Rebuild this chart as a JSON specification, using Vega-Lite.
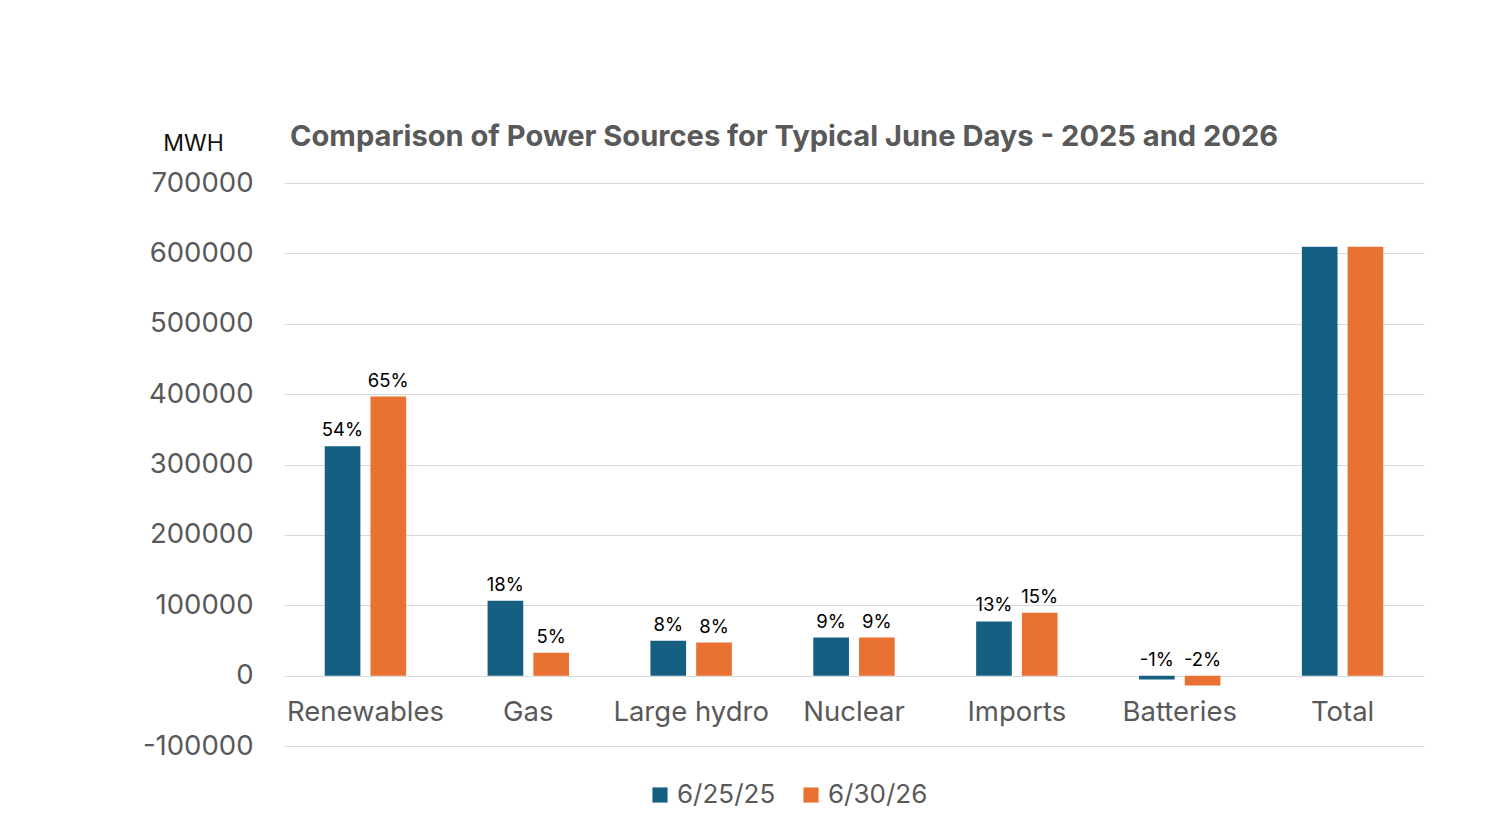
{
  "$schema": "https://vega.github.io/schema/vega-lite/v6.json",
  "width": 1140,
  "height": 563,
  "autosize": {"type": "none"},
  "padding": {"left": 284, "top": 183, "right": 70, "bottom": 88},
  "background": "white",
  "config": {"view": {"stroke": null}},
  "title": {
    "text": "Comparison of Power Sources for Typical June Days - 2025 and 2026",
    "anchor": "start",
    "frame": "group",
    "dx": 6,
    "offset": -20,
    "fontSize": 29.1,
    "font": "Inter",
    "fontWeight": "bold",
    "color": "#595959"
  },
  "data": {
    "values": [
      {"source": "Renewables", "date": "6/25/25", "mwh": 326000, "pct": "54%"},
      {"source": "Renewables", "date": "6/30/26", "mwh": 396500, "pct": "65%"},
      {"source": "Gas", "date": "6/25/25", "mwh": 106500, "pct": "18%"},
      {"source": "Gas", "date": "6/30/26", "mwh": 32500, "pct": "5%"},
      {"source": "Large hydro", "date": "6/25/25", "mwh": 49500, "pct": "8%"},
      {"source": "Large hydro", "date": "6/30/26", "mwh": 47000, "pct": "8%"},
      {"source": "Nuclear", "date": "6/25/25", "mwh": 54000, "pct": "9%"},
      {"source": "Nuclear", "date": "6/30/26", "mwh": 54000, "pct": "9%"},
      {"source": "Imports", "date": "6/25/25", "mwh": 77000, "pct": "13%"},
      {"source": "Imports", "date": "6/30/26", "mwh": 89500, "pct": "15%"},
      {"source": "Batteries", "date": "6/25/25", "mwh": -5500, "pct": "-1%"},
      {"source": "Batteries", "date": "6/30/26", "mwh": -14000, "pct": "-2%"},
      {"source": "Total", "date": "6/25/25", "mwh": 609500, "pct": null},
      {"source": "Total", "date": "6/30/26", "mwh": 609500, "pct": null}
    ]
  },
  "encoding": {
    "x": {
      "field": "source",
      "type": "nominal",
      "sort": null,
      "scale": {"paddingInner": 0.5, "paddingOuter": 0.25},
      "axis": {
        "title": null,
        "offset": -70,
        "domain": false,
        "ticks": false,
        "labelAngle": 0,
        "labelPadding": 22,
        "labelFontSize": 27.5,
        "labelFont": "Inter",
        "labelColor": "#595959"
      }
    },
    "xOffset": {
      "field": "date",
      "type": "nominal",
      "scale": {"paddingInner": 0.22, "paddingOuter": 0}
    }
  },
  "layer": [
    {
      "mark": {"type": "bar"},
      "encoding": {
        "y": {
          "field": "mwh",
          "type": "quantitative",
          "scale": {"domain": [-100000, 700000], "nice": false},
          "axis": {
            "values": [-100000, 0, 100000, 200000, 300000, 400000, 500000, 600000, 700000],
            "labelExpr": "'' + datum.value",
            "domain": false,
            "ticks": false,
            "gridColor": "#D9D9D9",
            "gridWidth": 1,
            "labelPadding": 31,
            "labelFontSize": 27.5,
            "labelFont": "Inter",
            "labelColor": "#595959",
            "title": "MWH",
            "titleAngle": 0,
            "titleFont": "Inter",
            "titleFontSize": 23,
            "titleFontWeight": "normal",
            "titleColor": "#111111",
            "titleAlign": "center",
            "titleBaseline": "middle",
            "titleX": -91,
            "titleY": -40
          }
        },
        "color": {
          "field": "date",
          "type": "nominal",
          "scale": {"range": ["#156082", "#E97132"]},
          "legend": {
            "title": null,
            "orient": "none",
            "legendX": 363,
            "legendY": 599,
            "direction": "horizontal",
            "symbolType": "square",
            "symbolSize": 230,
            "symbolStrokeWidth": 0,
            "labelFontSize": 26,
            "labelFont": "Inter",
            "labelColor": "#595959",
            "columnPadding": 22
          }
        }
      }
    },
    {
      "transform": [{"filter": "datum.pct != null && datum.mwh >= 0"}],
      "mark": {"type": "text", "baseline": "bottom", "dy": -6, "fontSize": 18.5, "font": "Inter", "color": "#000000"},
      "encoding": {
        "y": {"field": "mwh", "type": "quantitative"},
        "text": {"field": "pct"}
      }
    },
    {
      "transform": [{"filter": "datum.pct != null && datum.mwh < 0"}],
      "mark": {"type": "text", "baseline": "bottom", "dy": -6, "fontSize": 18.5, "font": "Inter", "color": "#000000"},
      "encoding": {
        "y": {"datum": 0, "type": "quantitative"},
        "text": {"field": "pct"}
      }
    }
  ]
}
